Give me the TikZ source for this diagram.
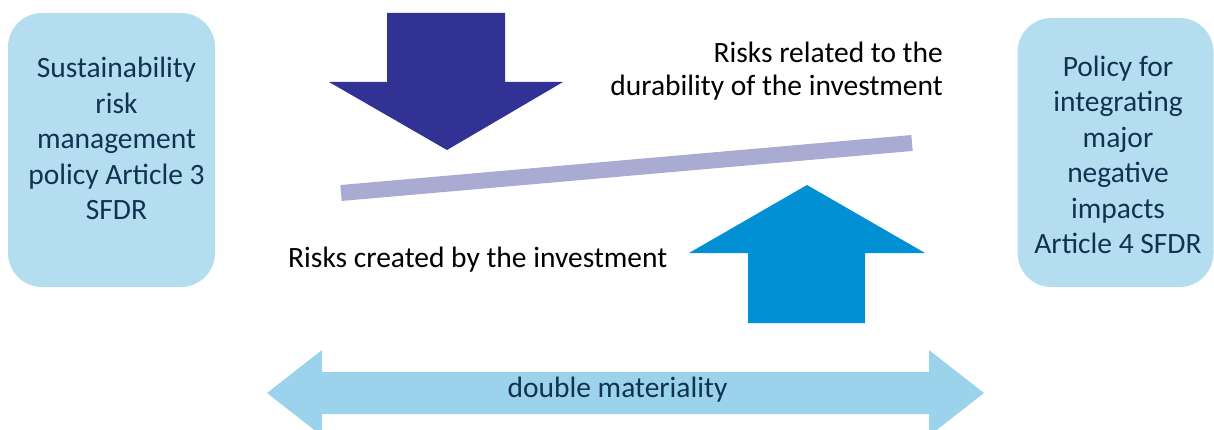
\documentclass[tikz,border=0pt]{standalone}
\usepackage{fontspec}
\setmainfont{Carlito}
\usetikzlibrary{positioning}
\definecolor{colPolicy}{HTML}{B4DEF0}
\definecolor{colPolicyText}{HTML}{0F3350}
\definecolor{colDown}{HTML}{313293}
\definecolor{colUp}{HTML}{0190D4}
\definecolor{colBeam}{HTML}{A9ABD3}
\definecolor{colDouble}{HTML}{9CD3EC}

\begin{document}
\begin{tikzpicture}[
    x=1pt, y=-1pt,
    policy/.style={fill=colPolicy, rounded corners=34pt, inner sep=0pt},
    policytxt/.style={font=\fontsize{29.5}{35.5}\selectfont, text=colPolicyText,
                      align=center, inner sep=0pt},
    risktxt/.style={font=\fontsize{29.5}{33}\selectfont, text=black, inner sep=0pt},
]
\useasboundingbox (0,0) rectangle (1214,430);

% ---- Policy boxes (left: Art. 3, right: Art. 4) ----------------------------
\node[policy, minimum width=207pt, minimum height=274pt] (art3) at (111.5,150) {};
\node[policytxt] (art3txt) at (116.5,138.7)
    {Sustainability\\risk\\management\\policy Article 3\\SFDR};

\node[policy, minimum width=196pt, minimum height=269pt] (art4) at (1115.5,152.5) {};
\node[policytxt] (art4txt) at (1118,155)
    {Policy for\\integrating\\major\\negative\\impacts\\Article 4 SFDR};

% ---- Balance beam and the two block arrows ---------------------------------
\draw[colBeam, line width=16pt] (341,193) -- (912,143);

% outside-in risks, pressing down
\fill[colDown] (387,13) -- (505,13) -- (505,82) -- (563,82) -- (447,150)
    -- (329,82) -- (387,82) -- cycle;
% inside-out risks, pushing up
\fill[colUp] (748,323) -- (865,323) -- (865,253) -- (925,253) -- (807,185)
    -- (689,253) -- (748,253) -- cycle;

\node[risktxt, align=right, anchor=east] (durab) at (943,71)
    {Risks related to the\\durability of the investment};
\node[risktxt, anchor=base west] (created) at (288,267)
    {Risks created by the investment};

% ---- Double materiality ----------------------------------------------------
\fill[colDouble] (267,393) -- (322,350) -- (322,372) -- (929,372) -- (929,350)
    -- (984,393) -- (929,436) -- (929,414) -- (322,414) -- (322,436) -- cycle;
\node[policytxt] (dm) at (617.5,389.5) {double materiality};

\end{tikzpicture}
\end{document}
